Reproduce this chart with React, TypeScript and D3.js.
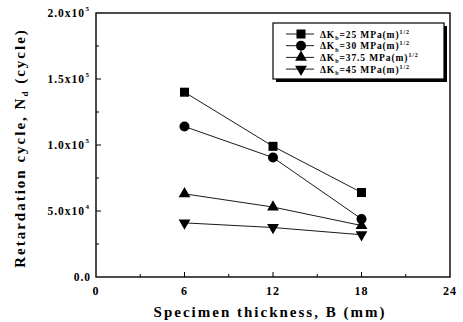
import React from 'react';
import * as d3 from 'd3';

// x positions (mm) and retardation cycles for each ΔKb level
const thickness = [6, 12, 18];
const kb25 = [140000, 99000, 64000];
const kb30 = [114000, 90500, 44000];
const kb375 = [63000, 53000, 39000];
const kb45 = [41000, 37500, 32000];

const seriesNames = ['25', '30', '37.5', '45'];
const seriesValues = [kb25, kb30, kb375, kb45];
const markerKinds = ['square', 'circle', 'triangle', 'triangleDown'];

const xTicks = [0, 6, 12, 18, 24];
const xMinor = [3, 9, 15, 21];
const yTicks = [0, 50000, 100000, 150000, 200000];
const yMinor = [25000, 75000, 125000, 175000];
const yTickMant = ['0.0', '5.0x10', '1.0x10', '1.5x10', '2.0x10'];
const yTickExp = ['', '4', '5', '5', '5'];

const W = 463, H = 322;
const margin = { top: 13, right: 13, bottom: 45, left: 96 };
const FONT = '"Liberation Serif", "Times New Roman", serif';

const Marker = ({ kind, x, y }: { kind: string; x: number; y: number }) => {
  if (kind === 'square') return <rect x={x - 4.5} y={y - 4.5} width={9} height={9} fill="#000" />;
  if (kind === 'circle') return <circle cx={x} cy={y} r={5} fill="#000" />;
  const sym = d3.symbol().type(d3.symbolTriangle).size(60)();
  return (
    <path d={sym || ''} fill="#000"
      transform={`translate(${x},${y}) ${kind === 'triangleDown' ? 'rotate(180)' : ''}`} />
  );
};

const App = () => {
  const iw = W - margin.left - margin.right;
  const ih = H - margin.top - margin.bottom;
  const x = d3.scaleLinear().domain([0, 24]).range([margin.left, margin.left + iw]);
  const y = d3.scaleLinear().domain([0, 200000]).range([margin.top + ih, margin.top]);
  const line = d3.line<number>().x((_, i) => x(thickness[i])).y(d => y(d));

  const lx = 273, ly = 23, lw = 171, lh = 56;

  return (
    <svg width={W} height={H} style={{ position: 'absolute', left: 0, top: 0, background: '#fff' }}
      fontFamily={FONT} fontWeight="bold">
      {/* frame */}
      <rect x={margin.left} y={margin.top} width={iw} height={ih} fill="none" stroke="#000" strokeWidth={1.4} />

      {/* x ticks */}
      {xTicks.map((t, i) => (
        <g key={'xt' + i}>
          {i > 0 && i < xTicks.length - 1 && (
            <line x1={x(t)} x2={x(t)} y1={y(0)} y2={y(0) - 5} stroke="#000" />
          )}
          <text x={x(t)} y={y(0) + 18} fontSize={12} letterSpacing={1} textAnchor="middle">{t}</text>
        </g>
      ))}
      {xMinor.map((t, i) => (
        <line key={'xm' + i} x1={x(t)} x2={x(t)} y1={y(0)} y2={y(0) - 3} stroke="#000" />
      ))}

      {/* y ticks */}
      {yTicks.map((t, i) => (
        <g key={'yt' + i}>
          {i > 0 && i < yTicks.length - 1 && (
            <line x1={margin.left} x2={margin.left + 5} y1={y(t)} y2={y(t)} stroke="#000" />
          )}
          <text x={yTickExp[i] ? 85 : 91} y={y(t) + 4} fontSize={11.5} letterSpacing={1}
            textAnchor="end">{yTickMant[i]}</text>
          {yTickExp[i] && (
            <text x={85.5} y={y(t) - 2} fontSize={7}>{yTickExp[i]}</text>
          )}
        </g>
      ))}
      {yMinor.map((t, i) => (
        <line key={'ym' + i} x1={margin.left} x2={margin.left + 3} y1={y(t)} y2={y(t)} stroke="#000" />
      ))}

      {/* axis titles */}
      <text x={x(12) - 3} y={317} fontSize={15} letterSpacing={2} textAnchor="middle">
        Specimen thickness, B (mm)
      </text>
      <text transform={`translate(25,${margin.top + ih / 2 + 3}) rotate(-90)`} fontSize={15}
        letterSpacing={2} textAnchor="middle">
        Retardation cycle, N<tspan dy={3} fontSize={9}>d</tspan><tspan dy={-3}> (cycle)</tspan>
      </text>

      {/* series */}
      {seriesValues.map((vals, s) => (
        <g key={'s' + s}>
          <path d={line(vals) || ''} fill="none" stroke="#000" strokeWidth={0.9} />
          {vals.map((v, i) => (
            <Marker key={i} kind={markerKinds[s]} x={x(thickness[i])} y={y(v)} />
          ))}
        </g>
      ))}

      {/* legend */}
      <rect x={lx + 3} y={ly + 3} width={lw} height={lh} fill="#000" />
      <rect x={lx} y={ly} width={lw} height={lh} fill="#fff" stroke="#000" strokeWidth={1.2} />
      {seriesNames.map((n, i) => {
        const ry = ly + 11 + i * 11.7;
        return (
          <g key={'lg' + i}>
            <line x1={286} x2={314} y1={ry} y2={ry} stroke="#000" strokeWidth={0.9} />
            <Marker kind={markerKinds[i]} x={301} y={ry} />
            <text x={320} y={ry + 3.5} fontSize={9.5} letterSpacing={0.9}>
              ΔK<tspan dy={2.5} fontSize={6}>b</tspan><tspan dy={-2.5}>={n} MPa(m)</tspan>
              <tspan dy={-4} fontSize={6}>1/2</tspan>
            </text>
          </g>
        );
      })}
    </svg>
  );
};

export default App;
